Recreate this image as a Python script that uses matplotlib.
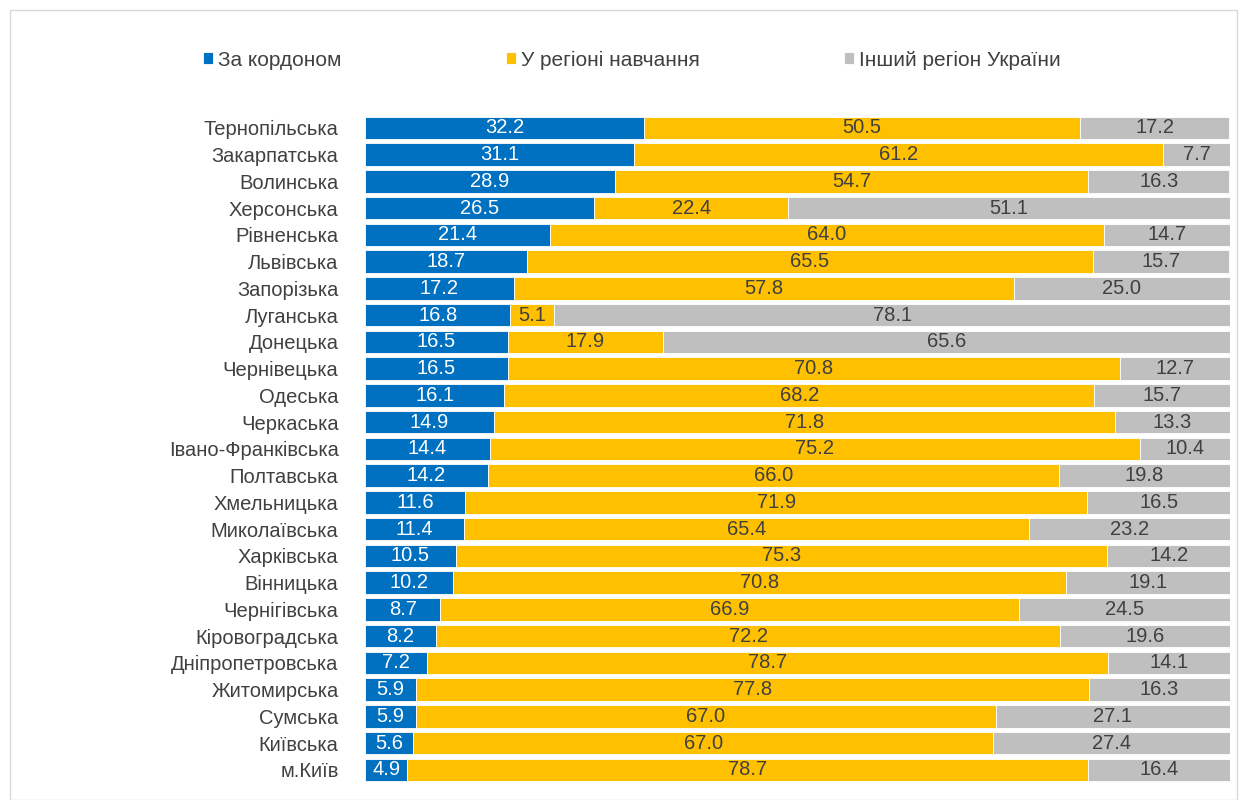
import matplotlib.pyplot as plt
import numpy as np
from matplotlib.patches import Rectangle

plt.rcParams['font.family'] = ['Liberation Sans', 'DejaVu Sans']

regions = ['Тернопільська', 'Закарпатська', 'Волинська', 'Херсонська', 'Рівненська',
           'Львівська', 'Запорізька', 'Луганська', 'Донецька', 'Чернівецька',
           'Одеська', 'Черкаська', 'Івано-Франківська', 'Полтавська', 'Хмельницька',
           'Миколаївська', 'Харківська', 'Вінницька', 'Чернігівська', 'Кіровоградська',
           'Дніпропетровська', 'Житомирська', 'Сумська', 'Київська', 'м.Київ']
abroad = [32.2, 31.1, 28.9, 26.5, 21.4, 18.7, 17.2, 16.8, 16.5, 16.5, 16.1, 14.9, 14.4,
          14.2, 11.6, 11.4, 10.5, 10.2, 8.7, 8.2, 7.2, 5.9, 5.9, 5.6, 4.9]
home = [50.5, 61.2, 54.7, 22.4, 64.0, 65.5, 57.8, 5.1, 17.9, 70.8, 68.2, 71.8, 75.2,
        66.0, 71.9, 65.4, 75.3, 70.8, 66.9, 72.2, 78.7, 77.8, 67.0, 67.0, 78.7]
other = [17.2, 7.7, 16.3, 51.1, 14.7, 15.7, 25.0, 78.1, 65.6, 12.7, 15.7, 13.3, 10.4,
         19.8, 16.5, 23.2, 14.2, 19.1, 24.5, 19.6, 14.1, 16.3, 27.1, 27.4, 16.4]
series_names = ['За кордоном', 'У регіоні навчання', 'Інший регіон України']

colors = ['#0070C0', '#FFC000', '#BFBFBF']
text_colors = ['white', '#404040', '#404040']

fig = plt.figure(figsize=(12.47, 8), dpi=100)
fig.patches.append(Rectangle((0.008, 0.0), 0.984, 0.988, transform=fig.transFigure,
                             fill=False, edgecolor='#D9D9D9', linewidth=1))
ax = fig.add_axes([0.2927, 0.021, 0.6937, 0.836])

y = np.arange(len(regions))
left = np.zeros(len(regions))
handles = []
for vals, col, tcol, name in zip([abroad, home, other], colors, text_colors, series_names):
    vals = np.array(vals)
    bars = ax.barh(y, vals, left=left, height=0.84, color=col, edgecolor='white',
                   linewidth=0.6, label=name)
    handles.append(bars)
    for yi, l, v in zip(y, left, vals):
        ax.text(l + v / 2, yi, f'{v:.1f}', ha='center', va='center',
                color=tcol, fontsize=14.5)
    left = left + vals

ax.set_xlim(0, 100)
ax.set_ylim(len(regions) - 0.5, -0.5)
ax.set_yticks(y)
ax.set_yticklabels(regions, fontsize=14.5, color='#404040')
ax.tick_params(axis='y', length=0, pad=19)
ax.set_xticks([])
for s in ax.spines.values():
    s.set_visible(False)

# legend items placed one by one, like the original
legend_x = [0.1628, 0.4058, 0.6768]
for h, name, lx in zip(handles, series_names, legend_x):
    leg = fig.legend(handles=[h], labels=[name], loc='center left',
                     bbox_to_anchor=(lx, 0.925), frameon=False, fontsize=15,
                     handlelength=0.5, handleheight=0.5, handletextpad=0.2,
                     labelcolor='#404040', borderaxespad=0, borderpad=0)

fig.savefig('out.png', dpi=100, facecolor='white')
